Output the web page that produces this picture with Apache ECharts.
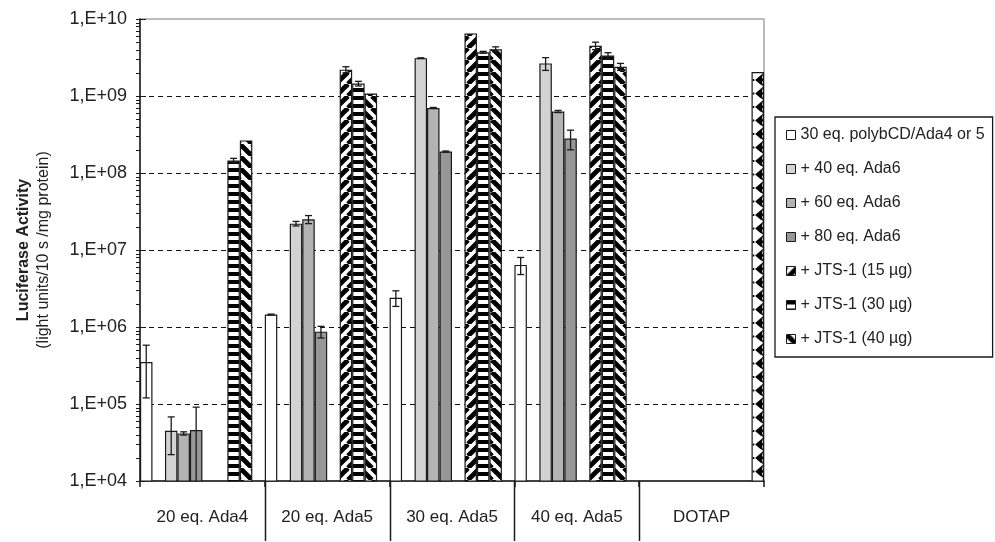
<!DOCTYPE html>
<html>
<head>
<meta charset="utf-8">
<script src="https://cdn.jsdelivr.net/npm/echarts@6/dist/echarts.min.js"></script>
<style>
html, body { margin: 0; padding: 0; background: #fff; }
#chart { width: 995px; height: 542px; }
</style>
</head>
<body>
<div id="chart"></div>
<script>
// categories on x axis
const categories = ['20 eq. Ada4', '20 eq. Ada5', '30 eq. Ada5', '40 eq. Ada5', 'DOTAP'];

// series values (light units/10 s /mg protein), null = no bar
const polyb = [3.5e5, 1.45e6, 2.4e6, 6.4e6, null];
const polybErr = [2.3e5, 2e4, 5.5e5, 1.6e6, null];
const ada6_40 = [4.5e4, 2.2e7, 3.1e9, 2.65e9, null];
const ada6_40Err = [2.3e4, 1.5e6, 3e7, 5e8, null];
const ada6_60 = [4.15e4, 2.5e7, 7e8, 6.3e8, null];
const ada6_60Err = [2e3, 3e6, 1e7, 2e7, null];
const ada6_80 = [4.6e4, 8.7e5, 1.9e8, 2.8e8, null];
const ada6_80Err = [4.5e4, 1.5e5, 3e6, 8e7, null];
const jts15 = [null, 2.2e9, 6.5e9, 4.5e9, null];
const jts15Err = [null, 2e8, 0, 5e8, null];
const jts30 = [1.45e8, 1.45e9, 3.7e9, 3.35e9, null];
const jts30Err = [1e7, 1e8, 1e8, 3e8, null];
const jts40 = [2.65e8, 1.08e9, 4.05e9, 2.4e9, null];
const jts40Err = [0, 0, 3e8, 2.5e8, null];
const dotap = [null, null, null, null, 2.05e9];

// y axis tick labels (decades)
const yTicks = [1e4, 1e5, 1e6, 1e7, 1e8, 1e9, 1e10];

const legendNames = ['30 eq. polybCD/Ada4 or 5', '+ 40 eq. Ada6', '+ 60 eq. Ada6', '+ 80 eq. Ada6',
  '+ JTS-1 (15 \u00b5g)', '+ JTS-1 (30 \u00b5g)', '+ JTS-1 (40 \u00b5g)'];

const FONT = '"Liberation Sans", Arial, sans-serif';
const SLOTS = 10;

// hatch patterns
function pattern(kind) {
  const s = kind === 'h' ? 8 : 12;
  const c = document.createElement('canvas');
  c.width = s; c.height = s;
  const g = c.getContext('2d');
  g.fillStyle = '#fff';
  g.fillRect(0, 0, s, s);
  g.fillStyle = '#000';
  g.strokeStyle = '#000';
  if (kind === 'h') {
    g.fillRect(0, 0, s, 4);
  } else {
    g.lineWidth = 4.8;
    for (const o of [-s, 0, s]) {
      g.beginPath();
      if (kind === '/') { g.moveTo(o, s); g.lineTo(o + s, 0); }
      else { g.moveTo(o, 0); g.lineTo(o + s, s); }
      g.stroke();
    }
  }
  return { image: c, repeat: 'repeat' };
}

const border = { borderColor: '#1a1a1a', borderWidth: 1.2 };

function bar(name, data, color) {
  return {
    name: name, type: 'bar', data: data, z: 3,
    barGap: 0, barCategoryGap: 0,
    itemStyle: Object.assign({ color: color }, border)
  };
}

const barSeries = [
  bar(legendNames[0], polyb, '#ffffff'),
  bar('gapA', categories.map(() => null), '#fff'),
  bar(legendNames[1], ada6_40, '#d3d3d3'),
  bar(legendNames[2], ada6_60, '#b3b3b3'),
  bar(legendNames[3], ada6_80, '#979797'),
  bar('gapB', categories.map(() => null), '#fff'),
  bar(legendNames[4], jts15, pattern('/')),
  bar(legendNames[5], jts30, pattern('h')),
  bar(legendNames[6], jts40, pattern('\\')),
  bar('DOTAP', dotap, '#ffffff')
];

// error bar rows: [category, value, slot, err]
const errRows = [];
[[0, polyb, polybErr], [2, ada6_40, ada6_40Err], [3, ada6_60, ada6_60Err], [4, ada6_80, ada6_80Err],
 [6, jts15, jts15Err], [7, jts30, jts30Err], [8, jts40, jts40Err]].forEach(([slot, vals, errs]) => {
  vals.forEach((v, i) => {
    if (v != null && errs[i]) errRows.push([i, v, slot, errs[i]]);
  });
});

function slotX(api, cat, slot) {
  const c0 = api.coord([0, 1e5])[0];
  const c1 = api.coord([1, 1e5])[0];
  const bw = c1 - c0;
  const c = api.coord([cat, 1e5])[0];
  return { x: c - bw / 2 + (slot + 0.5) * bw / SLOTS, w: bw / SLOTS, bw: bw };
}

const errorSeries = {
  type: 'custom', z: 5, silent: true,
  data: errRows,
  encode: { x: 0, y: 1 },
  renderItem: function (params, api) {
    const cat = api.value(0), v = api.value(1), slot = api.value(2), e = api.value(3);
    const sx = slotX(api, cat, slot).x;
    const yTop = api.coord([cat, v + e])[1];
    const clipped = v - e <= yTicks[0];
    const yBot = api.coord([cat, clipped ? yTicks[0] : v - e])[1];
    const st = { stroke: '#1a1a1a', lineWidth: 1.3 };
    const kids = [
      { type: 'line', shape: { x1: sx, y1: yTop, x2: sx, y2: yBot }, style: st },
      { type: 'line', shape: { x1: sx - 3.5, y1: yTop, x2: sx + 3.5, y2: yTop }, style: st }
    ];
    if (!clipped) kids.push({ type: 'line', shape: { x1: sx - 3.5, y1: yBot, x2: sx + 3.5, y2: yBot }, style: st });
    return { type: 'group', children: kids };
  }
};

// arrowhead hatch on the DOTAP bar
const dotapSeries = {
  type: 'custom', z: 4, silent: true,
  data: dotap.map((v, i) => v == null ? null : [i, v]).filter(d => d),
  encode: { x: 0, y: 1 },
  renderItem: function (params, api) {
    const cat = api.value(0), v = api.value(1);
    const s = slotX(api, cat, 9);
    const right = s.x + s.w / 2 - 0.6;
    const left = s.x - s.w / 2 + 0.6;
    const yTop = api.coord([cat, v])[1];
    const yBot = params.coordSys.y + params.coordSys.height;
    const kids = [];
    for (let y = yTop + 1; y + 13 <= yBot; y += 13.5) {
      kids.push({ type: 'polygon',
        shape: { points: [[right, y], [right - 3, y + 2.5], [left + 3, y + 7], [right - 3, y + 11.5], [right, y + 13],
          [right - 1.5, y + 9], [right, y + 7], [right - 1.5, y + 4.5]] },
        style: { fill: '#000' } });
      kids.push({ type: 'rect', shape: { x: left + 0.6, y: y + 6, width: 1.6, height: 2 }, style: { fill: '#000' } });
    }
    return { type: 'group', children: kids };
  }
};

// y axis ticks (major + log minor) and dashed decade grid lines
const tickRows = [];
yTicks.forEach((t, i) => {
  tickRows.push([0, t, 1]);
  if (i < yTicks.length - 1) for (let m = 2; m <= 9; m++) tickRows.push([0, t * m, 0]);
});

const tickSeries = {
  type: 'custom', z: 1, silent: true,
  data: tickRows,
  encode: { x: 0, y: 1 },
  renderItem: function (params, api) {
    const cs = params.coordSys;
    const v = api.value(1), major = api.value(2);
    const y = Math.round(api.coord([0, v])[1]) + 0.5;
    const st = { stroke: '#1a1a1a', lineWidth: 1 };
    const kids = [];
    if (major) {
      kids.push({ type: 'line', shape: { x1: cs.x - 4, y1: y, x2: cs.x + 6, y2: y }, style: st, z2: 10 });
      if (v > yTicks[0] && v < yTicks[yTicks.length - 1]) {
        kids.push({ type: 'line', shape: { x1: cs.x, y1: y, x2: cs.x + cs.width, y2: y },
          style: { stroke: '#111', lineWidth: 1.2, lineDash: [5, 4] } });
      }
    } else {
      kids.push({ type: 'line', shape: { x1: cs.x - 4, y1: y, x2: cs.x, y2: y }, style: st });
    }
    return { type: 'group', children: kids };
  }
};

// long category separator ticks
const sepSeries = {
  type: 'custom', z: 1, silent: true,
  data: categories.slice(1).map((c, i) => [i + 1, 1e5]),
  encode: { x: 0, y: 1 },
  renderItem: function (params, api) {
    const cs = params.coordSys;
    const s = slotX(api, api.value(0), 0);
    const x = Math.round(s.x - s.w / 2) + 0.5;
    const y0 = cs.y + cs.height;
    return { type: 'line', shape: { x1: x, y1: y0, x2: x, y2: y0 + 60 },
      style: { stroke: '#1a1a1a', lineWidth: 1.5 } };
  }
};

const chart = echarts.init(document.getElementById('chart'));
chart.setOption({
  animation: false,
  textStyle: { fontFamily: FONT },
  grid: {
    left: 140, right: 231, top: 19, bottom: 61,
    show: true, borderColor: '#a8a8a8', borderWidth: 1.5, backgroundColor: 'transparent'
  },
  legend: {
    orient: 'vertical', left: 775, top: 117,
    data: legendNames,
    itemWidth: 9, itemHeight: 9, itemGap: 18,
    padding: [10, 8, 10, 11],
    borderColor: '#1a1a1a', borderWidth: 1.3,
    icon: 'rect',
    itemStyle: { borderColor: '#1a1a1a', borderWidth: 1 },
    textStyle: { fontSize: 16, color: '#222', fontFamily: FONT }
  },
  xAxis: {
    type: 'category', data: categories,
    axisLine: { lineStyle: { color: '#1a1a1a', width: 1.5 } },
    axisTick: { show: true, length: 6, interval: 0, lineStyle: { color: '#1a1a1a', width: 1.5 } },
    axisLabel: { interval: 0, margin: 28, fontSize: 17, color: '#222', fontFamily: FONT },
    splitLine: { show: false }
  },
  yAxis: {
    type: 'log', logBase: 10, min: yTicks[0], max: yTicks[yTicks.length - 1], splitNumber: 6,
    axisLine: { show: true, lineStyle: { color: '#1a1a1a', width: 1.5 } },
    axisTick: { show: false },
    splitLine: { show: false },
    axisLabel: {
      margin: 13, fontSize: 18, color: '#222', fontFamily: FONT,
      formatter: v => '1,E+' + String(Math.round(Math.log10(v))).padStart(2, '0')
    },
    name: '{a|Luciferase Activity}\n{b|(light units/10 s /mg protein)}',
    nameLocation: 'middle', nameRotate: 90, nameGap: 86,
    nameTextStyle: {
      rich: {
        a: { fontSize: 16, fontWeight: 'bold', color: '#222', fontFamily: FONT, lineHeight: 20 },
        b: { fontSize: 16, color: '#222', fontFamily: FONT, lineHeight: 20 }
      }
    }
  },
  series: [tickSeries, sepSeries].concat(barSeries, [dotapSeries, errorSeries])
});
</script>
</body>
</html>
